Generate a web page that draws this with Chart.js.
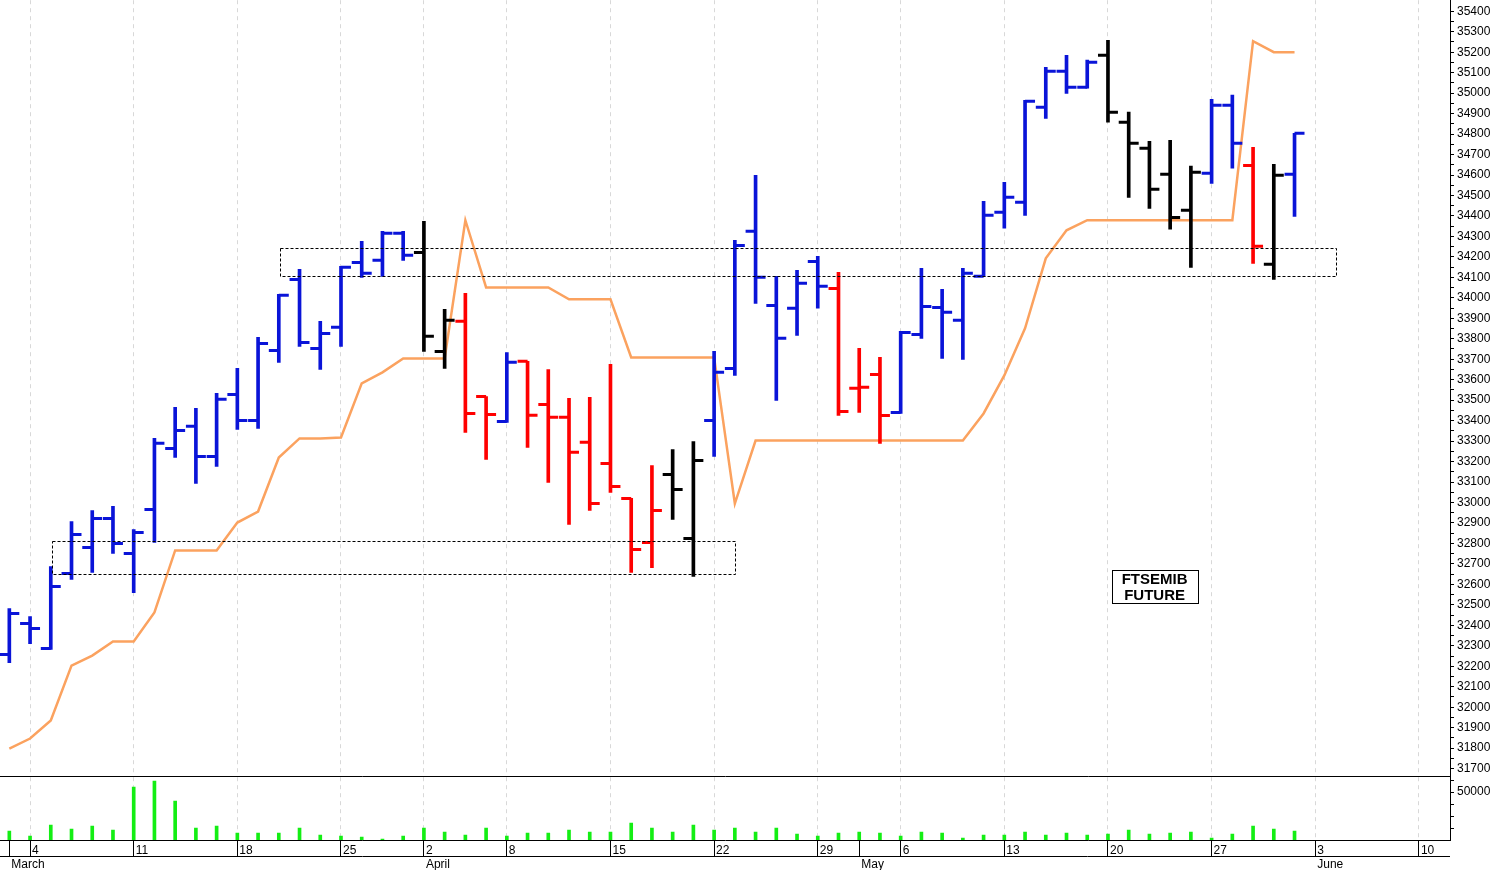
<!DOCTYPE html>
<html lang="it">
<head>
<meta charset="UTF-8">
<title>FTSEMIB Future</title>
<script src="https://cdn.jsdelivr.net/npm/chart.js"></script>
<style>
    body { margin: 0; background: #fff; overflow: hidden; }
    #top { position: absolute; left: 0; top: -10px; }
    #bottom { position: absolute; left: 0; top: 767px; }
</style>
</head>
<body>
<canvas id="top" width="1499" height="797"></canvas>
<canvas id="bottom" width="1499" height="103"></canvas>
<script>
// one entry per trading day, 1 March .. 31 May
const open = [32257,32409,32287,32653,32780,32922,32751,32966,33264,33372,
    33225,33528,33401,33743,34090,33753,33856,34173,34183,34315,
    34222,33738,33885,33518,33396,33690,33479,33416,33294,33191,
    33020,32805,33137,32824,33401,33655,34325,33963,33949,34178,
    34046,33558,33626,33440,33821,33953,33890,34105,34418,34467,
    34931,35107,35029,35185,34858,34731,34604,34428,34608,34941,
    34647,34164,34604];
const high = [32482,32443,32687,32907,32961,32981,32868,33313,33465,33460,
    33533,33655,33807,34017,34139,33885,34154,34276,34325,34325,
    34374,33944,34022,33518,33733,33690,33650,33509,33514,33675,
    33020,33181,33259,33298,33738,34281,34599,34105,34134,34203,
    34124,33753,33709,33836,34144,34041,34144,34472,34564,34965,
    35126,35185,35161,35258,34907,34765,34770,34643,34970,34990,
    34735,34652,34804];
const low = [32218,32311,32282,32624,32658,32751,32560,32805,33220,33093,
    33176,33357,33362,33685,33763,33650,33763,34100,34105,34183,
    33738,33655,33342,33210,33391,33269,33098,32893,32961,33049,
    32658,32682,32917,32639,33225,33621,33973,33499,33816,33949,
    33425,33440,33289,33435,33802,33704,33699,34105,34340,34403,
    34877,34999,35024,34858,34491,34437,34335,34149,34559,34633,
    34168,34090,34398];
const close = [32458,32384,32590,32844,32922,32800,32854,33289,33352,33225,
    33504,33401,33777,34012,33782,33826,34149,34120,34315,34208,
    33812,33890,33435,33430,33685,33426,33416,33245,32995,33078,
    32770,32961,33064,33205,33636,34256,34100,33802,34071,34056,
    33445,33563,33425,33831,33958,33929,34120,34403,34491,34960,
    35107,35029,35151,34907,34755,34530,34393,34613,34941,34755,
    34252,34599,34804];
// U = rialzo, D = ribasso, N = neutro
const signal = ['U','U','U','U','U','U','U','U','U','U',
    'U','U','U','U','U','U','U','U','U','U',
    'N','N','D','D','U','D','D','D','D','D',
    'D','D','N','N','U','U','U','U','U','U',
    'D','D','D','U','U','U','U','U','U','U',
    'U','U','U','N','N','N','N','N','U','U',
    'D','N','U'];
const stopLine = [31798,31847,31935,32203,32252,32321,32321,32463,32766,32766,
    32766,32902,32956,33220,33313,33313,33318,33582,33636,33704,
    33704,33704,34379,34051,34051,34051,34051,33993,33993,33993,
    33709,33709,33709,33709,33709,32995,33303,33303,33303,33303,
    33303,33303,33303,33303,33303,33303,33303,33435,33621,33851,
    34193,34330,34379,34379,34379,34379,34379,34379,34379,34379,
    35254,35200,35200];
const volume = [9400,4200,15600,11500,14600,10400,55200,61500,40600,12500,
    14600,7300,7300,7300,12500,5200,4200,3100,1000,4200,
    12500,8300,5200,12500,4200,7300,7300,10400,8300,8300,
    17700,12500,8300,15600,10400,12500,8300,12500,6300,4200,
    7300,8300,7300,4200,8300,7300,2100,5200,5200,8300,
    5200,7300,5200,6300,10400,6300,7300,8300,2100,6300,
    14600,11500,9400];

// asse tempi
const tickIdx = [0,1,6,11,16,20,24,29,34,39,41,43,48,53,58,63,68];
const dayLabels = ['','4','11','18','25','2','8','15','22','29','','6','13','20','27','3','10'];
const monthLabels = ['March','','','','','April','','','','','May','','','','','June',''];

// zone (indice inizio, indice fine, prezzo basso, prezzo alto)
const zones = [
    [13.05, 64, 34105, 34242],
    [2.05, 35, 32648, 32810]
];
const boxText = ['FTSEMIB', 'FUTURE'];
const boxPos = [55.25, 32590];

const priceTicks = [];
for (let p = 31700; p <= 35400; p += 50) priceTicks.push(p);
const volTicks = [12500, 25000, 37500, 50000, 62500];

const colors = { U: '#0a14d8', D: '#ff0000', N: '#000000' };
const sigColors = signal.map(s => colors[s]);
const font = { family: 'Liberation Sans, Arial', size: 12 };
const X_MIN = -0.45, X_MAX = 69.5;

const gridColor = ctx => (ctx.tick && dayLabels[tickIdx.indexOf(ctx.tick.value)]) ? '#d8d8d8' : 'rgba(0,0,0,0)';

const zonePlugin = {
    id: 'zones',
    afterDatasetsDraw(chart) {
        const { ctx, scales: { x, y } } = chart;
        ctx.save();
        ctx.strokeStyle = '#000';
        ctx.lineWidth = 1;
        ctx.setLineDash([3, 2]);
        zones.forEach(z => {
            const x1 = x.getPixelForValue(z[0]), x2 = x.getPixelForValue(z[1]);
            const y1 = y.getPixelForValue(z[3]), y2 = y.getPixelForValue(z[2]);
            ctx.strokeRect(Math.round(x1) + 0.5, Math.round(y1) + 0.5, Math.round(x2 - x1), Math.round(y2 - y1));
        });
        ctx.setLineDash([]);
        // etichetta
        const cx = x.getPixelForValue(boxPos[0]), cy = y.getPixelForValue(boxPos[1]);
        ctx.fillStyle = '#fff';
        ctx.fillRect(cx - 43, cy - 16, 86, 33);
        ctx.strokeRect(Math.round(cx - 43) + 0.5, Math.round(cy - 16) + 0.5, 86, 33);
        ctx.fillStyle = '#000';
        ctx.font = 'bold 15px Liberation Sans, Arial';
        ctx.textAlign = 'center';
        ctx.textBaseline = 'middle';
        ctx.fillText(boxText[0], cx, cy - 7);
        ctx.fillText(boxText[1], cx, cy + 9);
        ctx.restore();
    }
};

const sepPlugin = {
    id: 'sep',
    afterDraw(chart) {
        const { ctx, chartArea } = chart;
        ctx.save();
        ctx.strokeStyle = '#000';
        ctx.lineWidth = 1;
        ctx.beginPath();
        ctx.moveTo(0, chartArea.bottom + 16.5);
        ctx.lineTo(chartArea.right, chartArea.bottom + 16.5);
        ctx.stroke();
        ctx.restore();
    }
};

new Chart(document.getElementById('top'), {
    data: {
        datasets: [{
            type: 'line',
            data: stopLine.map((v, i) => ({ x: i, y: v })),
            borderColor: '#fba25f',
            borderWidth: 2.5,
            pointRadius: 0,
            order: 3
        }, {
            type: 'bar',
            data: high.map((h, i) => ({ x: i, y: [low[i], h] })),
            backgroundColor: sigColors,
            barThickness: 3,
            order: 1
        }, {
            type: 'scatter',
            data: open.map((v, i) => ({ x: i - 0.24, y: v })),
            pointStyle: 'line',
            radius: 5,
            borderWidth: 3,
            borderColor: sigColors,
            order: 1
        }, {
            type: 'scatter',
            data: close.map((v, i) => ({ x: i + 0.24, y: v })),
            pointStyle: 'line',
            radius: 5,
            borderWidth: 3,
            borderColor: sigColors,
            order: 1
        }]
    },
    options: {
        responsive: false,
        animation: false,
        devicePixelRatio: 1,
        layout: { padding: 0, autoPadding: false },
        plugins: { legend: { display: false }, tooltip: { enabled: false } },
        scales: {
            x: {
                type: 'linear', min: X_MIN, max: X_MAX, offset: false,
                afterBuildTicks: s => { s.ticks = tickIdx.map(v => ({ value: v })); },
                afterFit: s => { s.height = 1; },
                ticks: { display: false },
                grid: { color: gridColor, drawTicks: false, offset: false },
                border: { display: true, color: '#000', dash: [4, 4] }
            },
            y: {
                position: 'right', min: 31660, max: 35454,
                afterBuildTicks: s => { s.ticks = priceTicks.map(v => ({ value: v })); },
                afterFit: s => { s.width = 49; },
                ticks: {
                    autoSkip: false, color: '#000', font: font, padding: 3,
                    callback: v => v % 100 === 0 ? v : ''
                },
                grid: { drawOnChartArea: false, tickLength: 4, tickColor: '#000' },
                border: { color: '#000' }
            }
        }
    },
    plugins: [zonePlugin]
});

new Chart(document.getElementById('bottom'), {
    type: 'bar',
    data: {
        datasets: [{
            data: volume.map((v, i) => ({ x: i, y: v })),
            backgroundColor: '#14ee14',
            barThickness: 3
        }]
    },
    options: {
        responsive: false,
        animation: false,
        devicePixelRatio: 1,
        layout: { padding: 0, autoPadding: false },
        plugins: { legend: { display: false }, tooltip: { enabled: false } },
        scales: {
            x: {
                type: 'linear', min: X_MIN, max: X_MAX, offset: false,
                afterBuildTicks: s => { s.ticks = tickIdx.map(v => ({ value: v })); },
                afterFit: s => { s.height = 30; },
                ticks: {
                    autoSkip: false, maxRotation: 0, align: 'start', labelOffset: 2,
                    padding: -13, color: '#000', font: font,
                    callback: v => {
                        const k = tickIdx.indexOf(v);
                        return [dayLabels[k], monthLabels[k]];
                    }
                },
                grid: { color: gridColor, tickColor: '#000', tickLength: 16, offset: false },
                border: { display: true, color: '#000', dash: [4, 4] }
            },
            y: {
                position: 'right', min: 0, max: 65625,
                afterBuildTicks: s => { s.ticks = volTicks.map(v => ({ value: v })); },
                afterFit: s => { s.width = 49; },
                ticks: {
                    autoSkip: false, color: '#000', font: font, padding: 3,
                    callback: v => v === 50000 ? v : ''
                },
                grid: { drawOnChartArea: false, tickLength: 4, tickColor: '#000' },
                border: { color: '#000' }
            }
        }
    },
    plugins: [sepPlugin]
});
</script>
</body>
</html>
